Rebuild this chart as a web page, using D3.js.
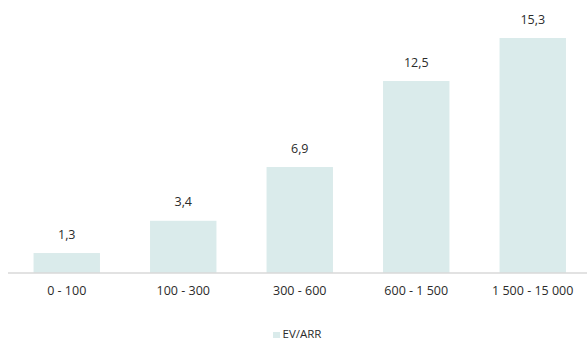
<!DOCTYPE html>
<html>
<head>
<meta charset="utf-8">
<script src="https://cdn.jsdelivr.net/npm/d3@7"></script>
<style>
  html, body { margin: 0; padding: 0; background: #fff; }
  svg { display: block; font-family: "Open Sans", "Lato", sans-serif; }
</style>
</head>
<body>
<svg id="chart" width="587" height="341"></svg>
<script>
// ARR ranges and EV/ARR multiples
const categories = ["0 - 100", "100 - 300", "300 - 600", "600 - 1 500", "1 500 - 15 000"];
const values = [1.3, 3.4, 6.9, 12.5, 15.3];
const seriesName = "EV/ARR";

const barColor = "#daebeb";
const axisColor = "#d9d9d9";
const textColor = "#2b2b2b";
const fontFamily = "'Open Sans', Lato, sans-serif";

const svg = d3.select("#chart");
const baseY = 273;

const x = d3.scaleBand()
  .domain(categories)
  .range([8.5, 591])
  .paddingInner(0.43)
  .paddingOuter(0.215);

const y = d3.scaleLinear()
  .domain([0, 15.3])
  .range([baseY, 38]);

const fmt = v => d3.format(".1f")(v).replace(".", ",");

// bars
svg.append("g")
  .selectAll("rect")
  .data(values)
  .join("rect")
  .attr("x", (d, i) => x(categories[i]))
  .attr("y", d => y(d))
  .attr("width", x.bandwidth())
  .attr("height", d => baseY - y(d))
  .attr("fill", barColor);

// value labels
svg.append("g")
  .selectAll("text")
  .data(values)
  .join("text")
  .attr("x", (d, i) => x(categories[i]) + x.bandwidth() / 2)
  .attr("y", d => y(d) - 14.5)
  .attr("text-anchor", "middle")
  .attr("font-size", 12.5)
  .attr("fill", textColor)
  .text(d => fmt(d));

// category axis
const xAxis = svg.append("g")
  .attr("transform", `translate(0,${baseY})`)
  .call(d3.axisBottom(x).tickSize(0).tickPadding(13));
xAxis.select(".domain")
  .attr("stroke", axisColor)
  .attr("stroke-width", 1.5)
  .attr("d", `M8,0H587`);
xAxis.selectAll("text")
  .attr("font-size", 12.5)
  .attr("font-family", fontFamily)
  .attr("fill", textColor);

// legend
const legend = svg.append("g").attr("transform", "translate(273,332)");
legend.append("rect")
  .attr("width", 7).attr("height", 6)
  .attr("fill", barColor);
legend.append("text")
  .attr("x", 9.5).attr("y", 6)
  .attr("font-size", 11.5)
  .attr("fill", textColor)
  .text(seriesName);
</script>
</body>
</html>
